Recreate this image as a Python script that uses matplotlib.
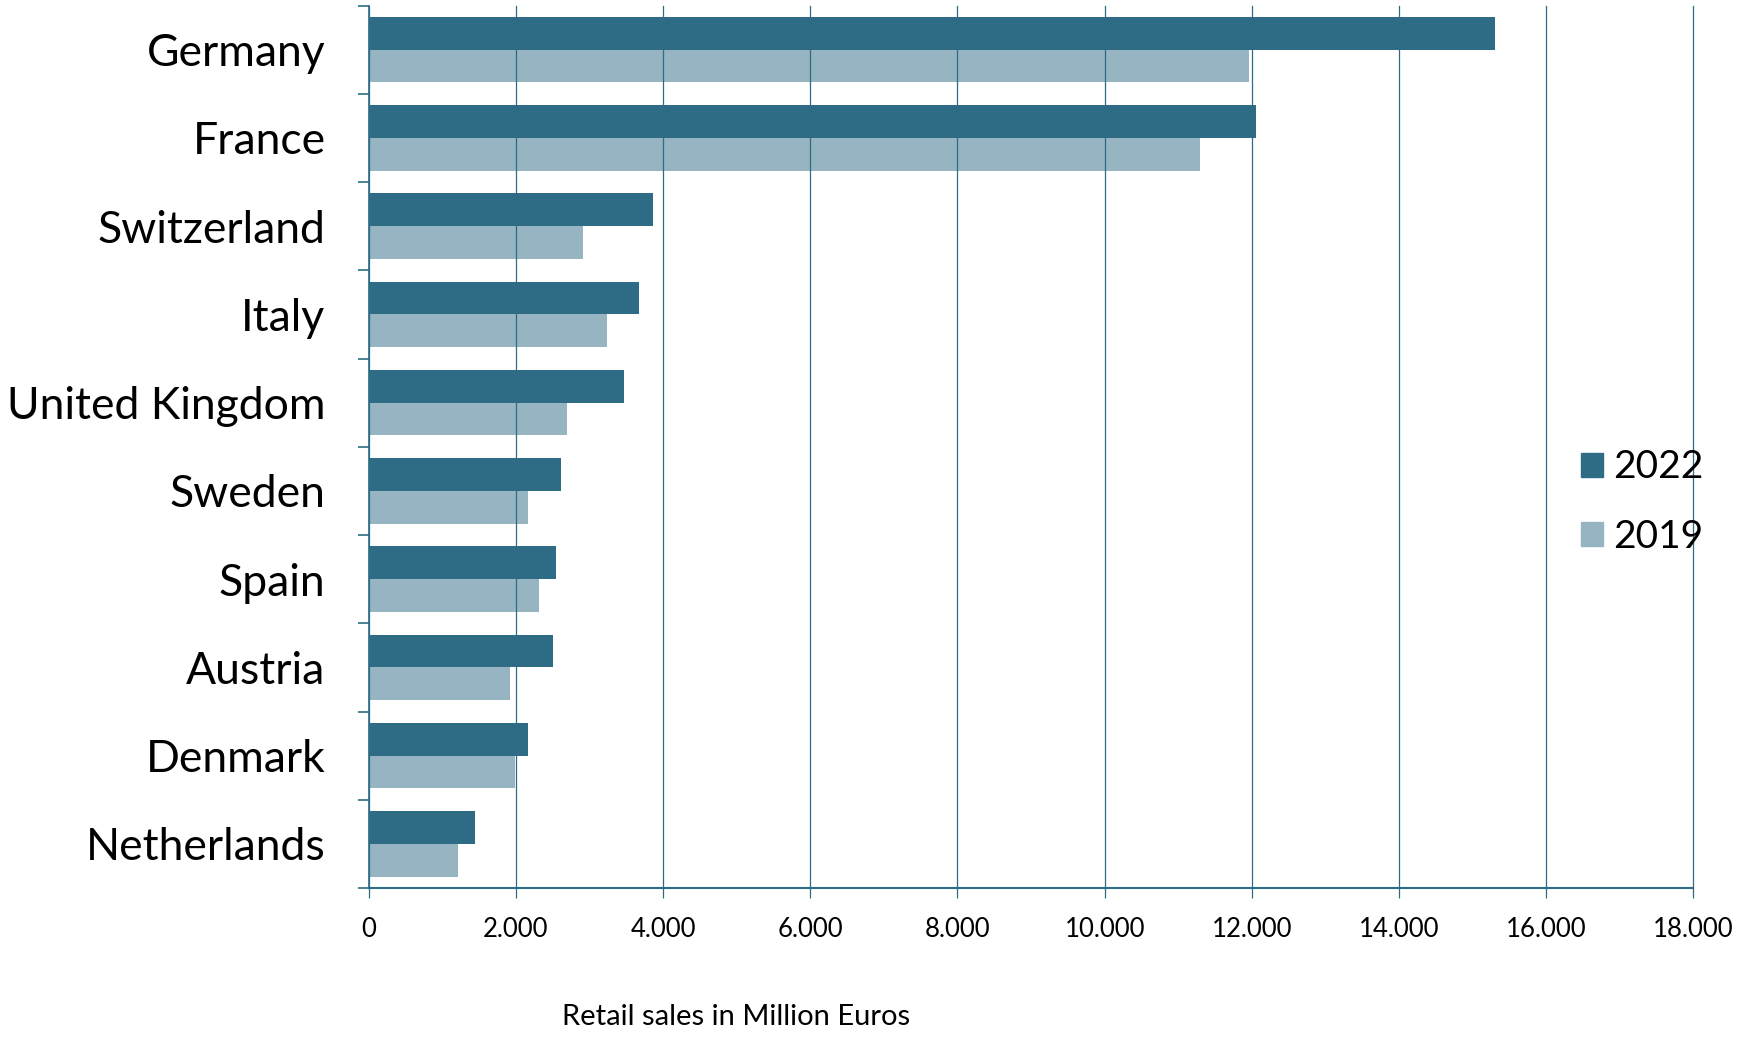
import numpy as np
import matplotlib
matplotlib.use("Agg")
import matplotlib.pyplot as plt
from matplotlib.ticker import FuncFormatter, FixedLocator
from matplotlib.patches import Patch

plt.rcParams['font.family'] = ['Lato', 'DejaVu Sans']

# dados
countries = ["Germany", "France", "Switzerland", "Italy", "United Kingdom",
             "Sweden", "Spain", "Austria", "Denmark", "Netherlands"]
sales_2022 = [15300, 12060, 3860, 3670, 3470, 2610, 2540, 2500, 2170, 1440]
sales_2019 = [11960, 11290, 2920, 3240, 2690, 2160, 2310, 1920, 1990, 1210]
years = ["2022", "2019"]
xticks = [0, 2000, 4000, 6000, 8000, 10000, 12000, 14000, 16000, 18000]

dark = "#2E6C85"
light = "#96B4C2"

fig = plt.figure(figsize=(17.41, 10.38), dpi=100)
ax = fig.add_axes([0.2117, 0.1445, 0.7610, 0.8502])

y = np.arange(len(countries))
h = 0.372
ax.barh(y - h / 2, sales_2022, height=h, color=dark, zorder=2)
ax.barh(y + h / 2, sales_2019, height=h, color=light, zorder=2)

ax.set_xlim(0, 18000)
ax.set_ylim(len(countries) - 0.5, -0.5)

# grade vertical
ax.set_xticks(xticks)
ax.xaxis.set_major_formatter(FuncFormatter(lambda v, p: f"{int(v):,}".replace(",", ".")))
ax.grid(axis="x", color=dark, linewidth=0.9, zorder=3)
ax.set_axisbelow(False)
for gl in ax.get_xgridlines():
    gl.set_clip_on(False)
ax.tick_params(axis="x", direction="out", length=7, width=0.9, color=dark,
               labelsize=18.5, pad=14)

# rotulos de categoria
ax.set_yticks(y)
ax.set_yticklabels(countries, fontsize=32)
ax.tick_params(axis="y", which="major", length=0, pad=31)
ax.yaxis.set_minor_locator(FixedLocator(np.arange(-0.5, len(countries), 1.0)))
ax.tick_params(axis="y", which="minor", direction="out", length=8, width=1.2, color=dark)

for s in ["top", "right"]:
    ax.spines[s].set_visible(False)
ax.spines["left"].set_color(dark)
ax.spines["left"].set_linewidth(1.2)
ax.spines["bottom"].set_color(dark)
ax.spines["bottom"].set_linewidth(1.5)

fig.text(736 / 1741, 1 - 1017 / 1038, "Retail sales in Million Euros",
         ha="center", va="center", fontsize=21)

handles = [Patch(color=dark), Patch(color=light)]
leg = fig.legend(handles, years, loc="center left",
                 bbox_to_anchor=(1581 / 1741, 1 - 502 / 1038),
                 frameon=False, fontsize=28, handlelength=0.57, handleheight=0.57,
                 handletextpad=0.25, labelspacing=0.86, borderpad=0,
                 borderaxespad=0)

fig.savefig("out.png", dpi=100)
